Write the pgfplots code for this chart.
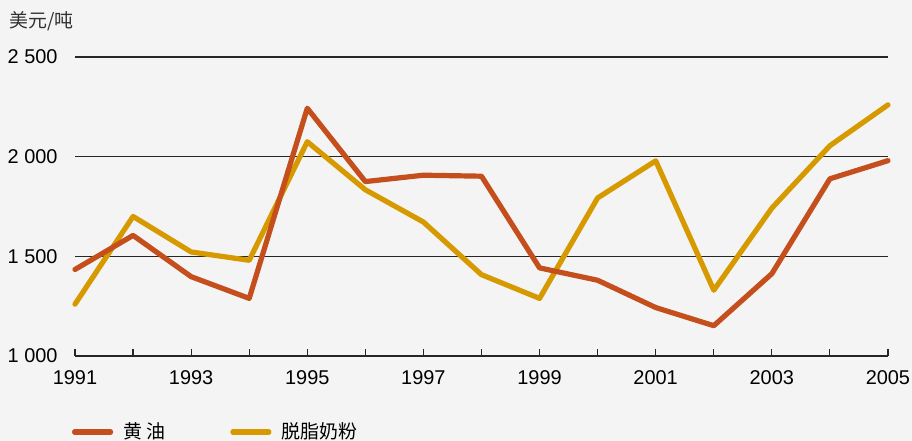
\documentclass[border=0pt]{standalone}
\usepackage{pgfplots}
\pgfplotsset{compat=1.18}
\usepackage{fontspec}
\setmainfont{Liberation Sans}
\newfontfamily\cjk{Noto Sans CJK SC}
\definecolor{bg}{RGB}{243,244,243}
\definecolor{butter}{RGB}{196,78,28}
\definecolor{smp}{RGB}{214,153,0}
\begin{document}
\fontsize{10}{12}\selectfont
\begin{tikzpicture}
\fill[bg] (-37.5bp,-42.5bp) rectangle (418.5bp,178bp);
\begin{axis}[
  at={(0,0)}, anchor=south west,
  scale only axis, width=406.5bp, height=149.5bp,
  xmin=1991, xmax=2005, ymin=1000, ymax=2500,
  axis x line*=bottom, axis y line*=left,
  y axis line style={draw=none}, ytick style={draw=none},
  x axis line style={black!85, line width=0.6bp, -},
  xtick style={black!85, line width=0.6bp},
  xtick={1991,...,2005},
  xticklabels={1991,,1993,,1995,,1997,,1999,,2001,,2003,,2005},
  tick align=inside, major tick length=3.5bp,
  ytick={1000,1500,2000,2500},
  yticklabels={1 000,1 500,2 000,2 500},
  ymajorgrids, grid style={black!85, line width=0.6bp},
  yticklabel style={anchor=east, inner sep=0pt, xshift=-8.5bp},
  xticklabel style={anchor=north, inner sep=0pt, yshift=-7bp},
  tick label style={font=\fontsize{10}{12}\selectfont},
  clip=false,
  reverse legend,
  legend columns=2,
  legend style={at={(axis description cs:0,0)}, anchor=west, yshift=-38bp, xshift=-1.5bp,
    draw=none, fill=none, inner sep=0pt, outer sep=0pt,
    font=\cjk\fontsize{9.5}{11}\selectfont,
    nodes={inner sep=0pt},
    /tikz/every odd column/.append style={column sep=5bp},
    /tikz/every even column/.append style={column sep=32.5bp}},
  legend image code/.code={\draw[#1, line cap=round] (0bp,0bp) -- (18bp,0bp);},
]
\addplot[smp, line width=2.6bp, line join=round, line cap=round] coordinates {
(1991,1260) (1992,1700) (1993,1522) (1994,1480) (1995,2075) (1996,1834)
(1997,1672) (1998,1408) (1999,1289) (2000,1793) (2001,1979) (2002,1330)
(2003,1742) (2004,2055) (2005,2260)};
\addlegendentry{脱脂奶粉}
\addplot[butter, line width=2.6bp, line join=round, line cap=round] coordinates {
(1991,1434) (1992,1605) (1993,1398) (1994,1289) (1995,2243) (1996,1875)
(1997,1907) (1998,1902) (1999,1442) (2000,1380) (2001,1243) (2002,1152)
(2003,1413) (2004,1889) (2005,1980)};
\addlegendentry{黄 油}
\node[anchor=west, font=\cjk\fontsize{9.5}{11}\selectfont, inner sep=0pt, xshift=-33bp, yshift=18bp, text=black!80]
  at (axis description cs:0,1) {美元/吨};
\end{axis}
\pgfresetboundingbox
\path[use as bounding box] (-37.5bp,-42.5bp) rectangle (418.5bp,178bp);
\end{tikzpicture}
\end{document}
